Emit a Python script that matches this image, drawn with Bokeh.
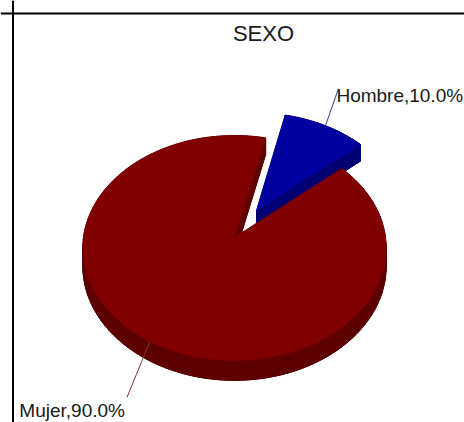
import numpy as np
from bokeh.plotting import figure
from bokeh.models import Range1d, Span, Label
from bokeh.embed import file_html
from bokeh.resources import INLINE

# ---- data ----
title = "SEXO"
categories = ["Hombre", "Mujer"]
percentages = [10.0, 90.0]

# ---- styles ----
top_colors = ["#0000A0", "#800000"]
side_colors = ["#000072", "#5C0000"]
leader_colors = ["#3A3A7A", "#7A3A3A"]
explode = [0.29, 0.0]
START_DEG = 13.0
FONT = "Liberation Sans"

# ---- page / projection layout (data units == page pixels) ----
W, H = 464, 422
CX, CY = 234.0, 237.0
RX, RY = 151.0, 111.5
K = 0.0933          # perspective factor
DEPTH = 18.0
leader_off = [(13, -37), (-23, 56)]
label_off = [(-2, 7, "left"), (-2, 13, "right")]

p = figure(width=W, height=H, x_range=Range1d(0, W), y_range=Range1d(H, 0),
           output_backend="svg", toolbar_location=None, min_border=0,
           x_axis_location=None, y_axis_location=None)
p.grid.visible = False
p.outline_line_color = None
p.background_fill_color = "white"
p.border_fill_color = "white"


def proj(u, v, dz=0.0):
    s = 1.0 / (1.0 - K * v)
    return CX + RX * u * s, CY + RY * v * s + dz * s


total = float(sum(percentages))
angles = []
a = START_DEG
for val in percentages:
    span = 360.0 * val / total
    angles.append((a, a + span))
    a += span

# back slices first (painter's order): Hombre is at the back
for i in range(len(categories)):
    a0, a1 = angles[i]
    mid = np.radians((a0 + a1) / 2)
    ox, oy = explode[i] * np.sin(mid), -explode[i] * np.cos(mid)
    th = np.radians(np.linspace(a0, a1, 120))
    u = np.concatenate([[ox], ox + np.sin(th)])
    v = np.concatenate([[oy], oy - np.cos(th)])
    tx, ty = proj(u, v)
    bx, by = proj(u, v, DEPTH)
    xs, ys = [], []
    n = len(u)
    for j in range(n):
        k2 = (j + 1) % n
        xs.append([tx[j], tx[k2], bx[k2], bx[j]])
        ys.append([ty[j], ty[k2], by[k2], by[j]])
    xs.append(list(bx))
    ys.append(list(by))
    p.patches(xs, ys, fill_color=side_colors[i], line_color=side_colors[i], line_width=1)
    p.patch(list(tx), list(ty), fill_color=top_colors[i], line_color=top_colors[i], line_width=0.5)

# leader lines and labels
for i in range(len(categories)):
    a0, a1 = angles[i]
    mid = np.radians((a0 + a1) / 2)
    ox, oy = explode[i] * np.sin(mid), -explode[i] * np.cos(mid)
    ax, ay = proj(ox + np.sin(mid), oy - np.cos(mid))
    ex, ey = ax + leader_off[i][0], ay + leader_off[i][1]
    p.line([ax, ex], [ay, ey], line_color=leader_colors[i], line_width=1)
    lx, ly, align = label_off[i]
    p.add_layout(Label(x=ex + lx, y=ey + ly, text=f"{categories[i]},{percentages[i]:.1f}%",
                       text_font=FONT, text_font_size="19px", text_color="#1A1A1A",
                       text_align=align, text_baseline="alphabetic"))

p.add_layout(Label(x=263, y=33, text=title, text_font=FONT, text_font_size="22px",
                   text_color="#1A1A1A", text_align="center", text_baseline="alphabetic"))

# frame border (top and left visible in view)
p.add_layout(Span(location=12.5, dimension="height", line_color="black", line_width=2))
p.add_layout(Span(location=13, dimension="width", line_color="black", line_width=2))

open("out.html", "w").write(file_html(p, INLINE))
